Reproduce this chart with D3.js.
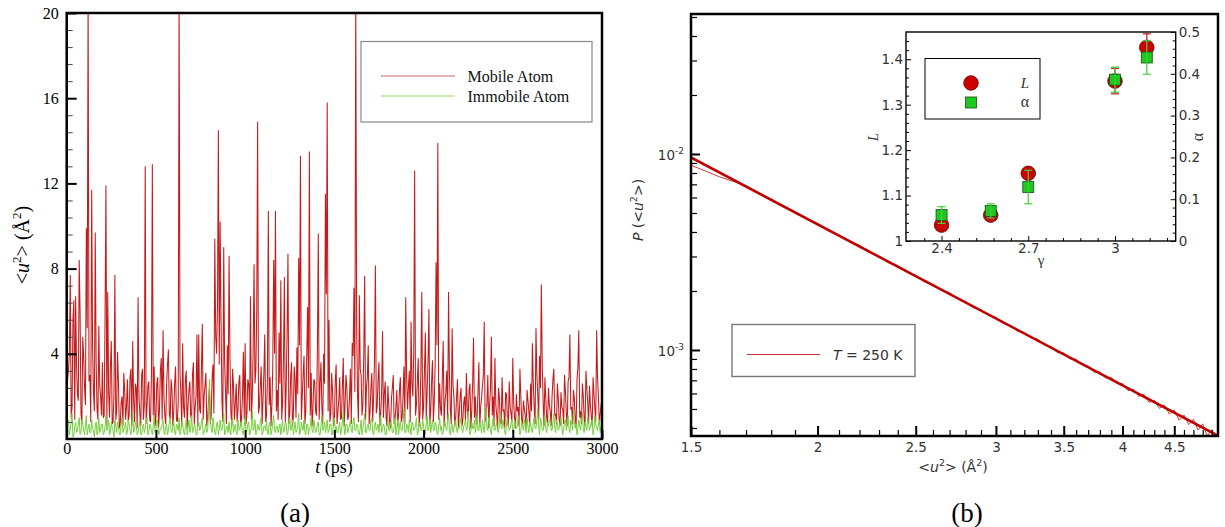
<!DOCTYPE html>
<html>
<head>
<meta charset="utf-8">
<script src="https://cdn.jsdelivr.net/npm/d3@7"></script>
<style>
  body { margin: 0; background: #fff; }
  svg { display: block; }
</style>
</head>
<body>
<svg id="fig" width="1225" height="527"></svg>
<script>
// ---------- (a) mean-square displacement time series ----------
const timeStep = 10; // ps between samples on the main grid
// samples at t = 0, 10, 20, ... 3000 ps
const mobileAtom = [
  0.6,3.2,7.7,1.5,6.5,6.7,2.1,8.4,1.2,4.8,2.4,9.9,21,3.0,11.7,2.2,9.7,1.4,5.3,2.0,
  3.6,1.1,11.9,6.9,1.0,4.6,0.8,7.7,1.3,2.6,0.7,2.0,3.1,0.9,2.8,1.1,3.3,4.6,0.8,2.4,
  6.65,1.2,3.0,0.9,12.8,1.5,2.7,0.8,12.9,3.4,1.0,2.9,1.4,3.8,5.1,1.1,2.6,4.2,0.9,2.3,
  1.3,3.4,0.8,21,2.1,4.5,1.0,3.2,1.6,2.7,0.9,3.6,1.5,4.9,4.9,1.2,5.4,2.0,3.1,1.0,
  2.4,1.1,3.5,9.4,4.0,14.5,10.2,1.8,9.0,2.2,4.4,8.6,1.3,3.3,0.9,2.6,1.4,3.0,1.0,4.1,
  4.5,1.2,2.6,6.7,2.0,8.2,3.2,14.9,1.5,3.4,1.8,4.9,1.1,10.7,2.9,1.6,8.4,10.7,2.3,5.0,
  7.45,1.7,7.6,2.4,8.7,1.2,3.6,1.0,2.8,4.3,8.5,13.3,2.0,3.9,1.3,6.2,13.5,3.1,1.4,2.7,
  1.1,9.65,2.6,1.5,4.0,11.5,15.8,5.6,1.2,2.2,0.8,3.5,1.3,2.9,1.0,3.8,1.6,2.4,1.1,3.3,
  4.5,7.1,21,2.0,6.75,3.0,1.6,7.65,2.4,4.4,1.3,3.1,2.0,8.15,1.5,3.6,1.2,5.06,2.1,1.0,
  2.5,0.8,1.9,3.0,0.9,2.3,1.2,2.9,1.0,3.4,6.65,1.4,3.2,5.5,2.0,12.6,1.6,3.8,1.2,6.9,
  1.5,5.0,2.2,6.1,1.3,3.7,1.8,8.3,13.9,2.6,1.1,4.6,1.7,3.2,6.9,1.4,5.2,2.0,1.0,2.8,
  1.2,2.4,0.9,2.0,3.1,1.0,2.6,1.3,4.75,2.0,1.1,3.6,1.5,2.5,5.5,1.2,3.0,1.6,4.8,2.0,
  3.8,1.1,2.4,0.8,2.9,1.4,2.2,0.9,2.7,1.2,3.8,1.0,2.1,1.5,3.3,0.9,1.8,1.1,2.3,1.3,
  2.6,4.5,1.5,5.2,2.1,3.9,7.25,1.8,2.9,1.0,2.4,1.3,2.0,3.3,1.2,2.6,0.9,2.2,1.4,3.0,
  1.2,2.7,4.9,1.5,2.3,1.0,2.8,5.1,1.3,2.6,1.0,3.2,1.7,2.5,1.1,2.9,1.4,5.1,2.0,1.2,
  1.8
];
// samples at t = 5, 15, 25, ... 2995 ps
const mobileAtomMid = [
  2.8,4.1,1.0,5.6,0.9,3.5,1.8,6.0,0.7,3.9,1.6,5.2,2.7,0.8,4.4,1.3,3.6,0.9,2.5,1.1,
  1.0,5.8,0.6,2.2,3.4,0.7,2.1,0.9,4.1,0.5,1.7,0.6,2.3,1.5,0.8,2.9,0.6,1.9,2.6,0.5,
  2.0,0.6,3.3,1.6,0.7,2.5,0.9,3.0,1.1,0.6,2.6,0.5,3.2,0.9,2.0,0.7,3.5,1.2,2.8,0.6,
  2.6,0.9,1.7,3.1,0.6,1.5,2.8,0.5,2.3,1.1,3.0,0.7,2.0,0.6,1.4,3.3,0.9,2.5,0.6,1.8,
  0.7,2.9,1.2,4.8,6.2,3.5,5.5,0.8,3.6,0.7,2.1,3.8,0.6,2.4,1.7,0.8,2.7,0.6,2.0,0.9,
  0.7,2.8,1.3,0.9,4.2,2.6,6.0,1.2,2.5,0.7,3.1,0.8,2.9,1.6,0.6,3.5,4.0,1.3,0.9,2.6,
  0.9,3.8,0.8,4.9,0.7,2.9,0.6,3.4,1.0,2.1,4.4,0.9,3.0,0.7,3.8,2.4,1.1,0.6,2.8,1.3,
  4.2,0.9,3.6,0.7,2.6,6.8,1.3,0.8,3.1,0.6,2.7,0.7,1.8,0.9,2.5,0.6,3.0,0.9,2.0,0.7,
  3.9,2.2,5.4,0.8,3.3,1.1,4.1,0.9,2.9,0.7,2.4,0.8,3.7,1.2,2.8,0.6,2.2,1.0,2.7,0.6,
  1.6,0.5,2.4,0.7,1.5,0.6,2.3,0.8,2.0,0.7,3.0,2.4,0.8,2.6,4.1,1.1,2.7,0.6,3.2,0.9,
  3.2,0.9,3.6,0.7,2.7,0.8,3.5,4.4,0.9,1.4,2.9,0.6,2.2,0.9,3.1,0.7,2.5,0.6,2.0,0.5,
  2.0,0.6,1.7,0.8,1.4,2.3,0.5,2.6,1.0,0.7,2.2,0.6,1.9,3.0,0.8,1.6,0.5,2.4,1.1,0.6,
  1.6,0.5,1.9,0.7,1.3,0.5,2.1,0.6,1.5,0.8,1.7,0.5,1.3,0.6,2.0,0.7,1.4,0.5,1.8,0.6,
  1.3,2.6,0.7,3.0,0.9,2.4,3.5,0.6,1.9,0.7,1.6,0.6,2.8,1.1,0.7,1.9,0.6,1.5,0.7,2.2,
  0.6,2.9,1.4,0.7,1.9,0.6,3.4,1.0,0.7,2.0,0.6,2.4,0.7,1.6,0.6,2.1,0.8,2.9,0.7,1.6
];
const immobileAtom = [
  0.3,0.9,0.5,1.2,0.2,0.8,0.4,1.0,0.3,0.7,0.2,1.1,0.5,0.3,0.9,0.4,0.6,0.2,1.0,0.4,
  0.7,0.3,1.1,0.5,0.2,0.8,0.4,0.9,0.3,0.6,0.2,1.0,0.5,0.8,0.3,0.7,0.2,1.2,0.4,0.6,
  0.3,0.9,0.2,0.7,0.5,1.0,0.3,0.6,0.2,1.1,0.4,0.8,0.3,0.5,0.9,0.2,0.7,0.4,1.0,0.3,
  0.8,0.2,0.6,1.0,0.4,0.7,0.2,0.9,0.5,0.3,1.1,0.4,0.6,0.2,0.8,0.5,1.0,0.3,0.7,0.4,
  2.8,0.5,1.0,0.3,0.7,0.2,0.9,0.4,1.2,0.3,0.6,0.8,0.2,1.0,0.5,0.3,0.9,0.4,0.7,0.2,
  1.0,0.4,0.8,0.3,1.3,0.5,0.2,0.7,0.4,1.0,0.3,0.6,0.9,0.2,0.8,0.4,1.1,0.3,0.6,0.5,
  0.2,0.9,0.4,0.7,0.3,1.0,0.5,0.2,0.8,0.4,1.2,0.3,0.6,0.9,0.2,0.7,0.5,1.0,0.3,0.6,
  0.4,0.8,0.2,1.1,0.5,0.3,0.9,0.4,0.7,0.2,1.0,0.6,0.3,0.8,0.4,1.3,0.2,0.7,0.5,0.9,
  0.3,1.0,0.4,0.6,0.2,0.9,0.5,1.2,0.3,0.7,0.4,1.0,0.2,0.8,0.5,0.3,1.1,0.4,0.6,0.2,
  0.9,0.4,0.7,0.3,1.0,0.5,0.2,0.8,0.4,1.4,0.3,0.6,0.9,0.2,0.7,0.5,1.0,0.3,0.8,0.4,
  0.6,0.2,1.1,0.5,0.3,0.9,0.4,0.7,0.2,1.0,0.6,0.3,0.8,0.4,1.2,0.2,0.7,0.5,0.9,0.3,
  0.5,1.0,0.3,0.7,0.4,1.3,0.2,0.8,0.5,0.3,1.1,0.4,0.6,0.9,0.3,1.5,0.4,0.7,0.2,1.0,
  0.4,0.8,0.3,1.2,0.5,0.6,0.2,1.0,0.4,0.7,0.3,0.9,0.5,1.1,0.2,0.8,0.4,0.6,1.0,0.3,
  0.7,0.3,1.0,0.5,1.4,0.2,0.8,0.4,1.1,0.3,0.6,0.9,0.4,1.2,0.3,0.7,0.5,1.0,0.2,0.8,
  0.4,1.1,0.3,0.7,1.3,0.5,0.2,0.9,0.4,1.2,0.3,0.6,1.0,0.4,0.8,0.2,1.1,0.5,0.7,0.3,
  0.6
];
const immobileAtomMid = [
  0.5,0.2,0.8,0.1,0.6,0.3,0.7,0.2,0.9,0.4,0.6,0.2,0.7,0.3,0.5,0.1,0.8,0.4,0.3,0.7,
  0.2,0.6,0.4,0.9,0.3,0.5,0.1,0.6,0.8,0.2,0.7,0.3,0.5,0.2,0.9,0.4,0.6,0.3,0.8,0.2,
  0.6,0.2,0.5,0.3,0.8,0.2,0.7,0.4,0.6,0.3,0.9,0.2,0.5,0.7,0.3,0.6,0.2,0.8,0.4,0.6,
  0.3,0.7,0.4,0.2,0.8,0.3,0.6,0.2,0.9,0.5,0.3,0.7,0.2,0.6,0.4,0.8,0.2,0.5,0.3,1.3,
  0.9,0.3,0.6,0.2,0.8,0.4,0.5,0.7,0.2,0.6,0.3,0.4,0.9,0.3,0.7,0.2,0.5,0.8,0.3,0.6,
  0.3,0.7,0.2,0.6,0.4,0.9,0.3,0.5,0.8,0.2,0.6,0.4,0.3,0.7,0.2,0.8,0.4,0.6,0.3,0.7,
  0.6,0.3,0.8,0.2,0.7,0.4,0.9,0.5,0.3,0.6,0.2,0.8,0.4,0.3,0.7,0.2,0.6,0.4,0.9,0.3,
  0.7,0.2,0.6,0.4,0.8,0.6,0.3,0.7,0.2,0.9,0.4,0.3,0.6,0.2,0.8,0.5,0.7,0.3,0.6,0.4,
  0.8,0.4,0.7,0.3,0.5,0.2,0.8,0.3,0.6,0.4,0.9,0.3,0.6,0.4,0.7,0.9,0.3,0.7,0.2,0.6,
  0.4,0.8,0.3,0.6,0.2,0.9,0.6,0.4,0.8,0.3,0.7,0.3,0.5,0.8,0.4,0.6,0.2,0.7,0.4,0.9,
  0.3,0.8,0.4,0.9,0.6,0.4,0.8,0.3,0.6,0.4,0.2,0.7,0.5,0.9,0.4,0.6,0.3,0.8,0.4,0.6,
  0.8,0.4,0.6,0.9,0.5,0.7,0.4,0.5,0.9,0.6,0.4,0.8,0.3,0.6,0.9,0.5,1.0,0.4,0.7,0.5,
  0.6,0.4,0.8,0.5,0.9,0.3,0.7,0.6,0.5,0.9,0.4,0.7,0.6,0.8,0.4,0.6,0.9,0.3,0.6,0.8,
  0.4,0.8,0.5,0.9,0.6,1.0,0.4,0.7,0.5,0.8,0.9,0.4,0.8,0.6,0.9,0.4,0.8,0.6,0.5,0.9,
  0.7,0.5,0.9,0.4,0.8,0.7,0.5,0.6,0.9,0.5,0.8,0.4,0.7,0.6,0.9,0.5,0.7,0.4,0.9,0.6
];
const timeTicks = [0, 500, 1000, 1500, 2000, 2500, 3000];
const msdTicks = [4, 8, 12, 16, 20];
const msdMinorTicks = [0.8,1.6,2.4,3.2,4.8,5.6,6.4,7.2,8.8,9.6,10.4,11.2,12.8,13.6,14.4,15.2,16.8,17.6,18.4,19.2];
const seriesNames = ["Mobile Atom", "Immobile Atom"];

// ---------- (b) distribution of <u^2> ----------
const distU = [1.50,1.55,1.60,1.65,1.70,1.75,1.80,1.85,1.90,1.95,2.00,2.05,2.10,2.15,2.20,2.25,2.30,2.35,2.40,2.45,
  2.50,2.55,2.60,2.65,2.70,2.75,2.80,2.85,2.90,2.95,3.00,3.05,3.10,3.15,3.20,3.25,3.30,3.35,3.40,3.45,
  3.50,3.55,3.60,3.65,3.70,3.75,3.80,3.85,3.90,3.95,4.00,4.05,4.10,4.15,4.20,4.25,4.30,4.35,4.40,4.45,
  4.50,4.55,4.60,4.65,4.70,4.75,4.80,4.85,4.90,4.95];
const distP = [8.76e-3,8.19e-3,7.65e-3,7.26e-3,6.88e-3,6.26e-3,5.90e-3,5.37e-3,5.07e-3,4.67e-3,
  4.42e-3,4.05e-3,3.85e-3,3.57e-3,3.42e-3,3.145e-3,3.01e-3,2.786e-3,2.692e-3,2.498e-3,
  2.402e-3,2.225e-3,2.154e-3,2.012e-3,1.961e-3,1.823e-3,1.764e-3,1.642e-3,1.606e-3,1.501e-3,
  1.467e-3,1.367e-3,1.335e-3,1.246e-3,1.230e-3,1.152e-3,1.136e-3,1.056e-3,1.040e-3,9.70e-4,
  9.65e-4,9.01e-4,8.98e-4,8.34e-4,8.28e-4,7.69e-4,7.73e-4,7.19e-4,7.23e-4,6.74e-4,
  6.74e-4,6.20e-4,6.31e-4,5.80e-4,5.94e-4,5.40e-4,5.54e-4,5.04e-4,5.23e-4,4.71e-4,
  4.94e-4,4.38e-4,4.66e-4,4.16e-4,4.43e-4,3.90e-4,4.20e-4,3.64e-4,3.92e-4,3.60e-4];
const fitU = [1.5, 4.97];
const fitP = [9.6e-3, 3.65e-4];
const uTicks = [1.5, 2, 2.5, 3, 3.5, 4, 4.5];
const uMinorTicks = [1.6,1.7,1.8,1.9,2.1,2.2,2.3,2.4,2.6,2.7,2.8,2.9,3.1,3.2,3.3,3.4,3.6,3.7,3.8,3.9,4.1,4.2,4.3,4.4,4.6,4.7,4.8,4.9];
const pTicks = [1e-3, 1e-2];
const pTickExp = ["-3", "-2"];
const pMinorTicks = [4e-4,5e-4,6e-4,7e-4,8e-4,9e-4,2e-3,3e-3,4e-3,5e-3,6e-3,7e-3,8e-3,9e-3,2e-2,3e-2,4e-2,5e-2];

// ---------- inset: L and alpha versus gamma ----------
const gammaVals = [2.40, 2.57, 2.70, 3.00, 3.11];
const lVals = [1.035, 1.057, 1.149, 1.352, 1.426];
const lErr = [0.005, 0.012, 0.010, 0.028, 0.030];
const alphaVals = [0.062, 0.072, 0.129, 0.386, 0.439];
const alphaErr = [0.020, 0.017, 0.040, 0.030, 0.040];
const gammaTicks = [2.4, 2.7, 3];
const gammaMinorTicks = [2.34, 2.46, 2.52, 2.58, 2.64, 2.76, 2.82, 2.88, 2.94, 3.06, 3.12, 3.18];
const lTicks = [1, 1.1, 1.2, 1.3, 1.4];
const lMinorTicks = [1.02,1.04,1.06,1.08,1.12,1.14,1.16,1.18,1.22,1.24,1.26,1.28,1.32,1.34,1.36,1.38,1.42,1.44];
const alphaTicks = [0, 0.1, 0.2, 0.3, 0.4, 0.5];
const alphaMinorTicks = [0.02,0.04,0.06,0.08,0.12,0.14,0.16,0.18,0.22,0.24,0.26,0.28,0.32,0.34,0.36,0.38,0.42,0.44,0.46,0.48];

const svg = d3.select("#fig");
const SERIF = "'Liberation Serif', 'Times New Roman', serif";
const SANS = "'DejaVu Sans', 'Noto Sans', sans-serif";

function styleAxis(g, font, size, color) {
  g.select(".domain").remove();
  g.attr("font-family", font).attr("font-size", size);
  g.selectAll(".tick text").attr("fill", color);
  g.selectAll(".tick line").attr("stroke", "#000");
}

// Adds text made of runs; runs may be italic or superscript.
function richText(sel, runs, supSize, supShift) {
  runs.forEach(r => {
    const ts = sel.append("tspan").text(r.t);
    if (r.i) ts.attr("font-style", "italic");
    if (r.sup) ts.attr("font-size", supSize).attr("dy", -supShift);
    if (r.back) ts.attr("dy", supShift);
  });
  return sel;
}

// Interleave the main grid and the half-step samples into one time series.
function interleave(main, mid) {
  const out = [];
  main.forEach((v, i) => {
    out.push([i * timeStep, v]);
    if (i < mid.length) out.push([i * timeStep + timeStep / 2, mid[i]]);
  });
  return out;
}

// ================= panel (a) =================
const xA = d3.scaleLinear().domain([0, 3000]).range([66.7, 602]);
const yA = d3.scaleLinear().domain([0, 20]).range([439, 13]);

svg.append("defs").append("clipPath").attr("id", "clipA")
  .append("rect").attr("x", xA(0)).attr("y", yA(20))
  .attr("width", xA(3000) - xA(0)).attr("height", yA(0) - yA(20));

const lineA = d3.line().x(d => xA(d[0])).y(d => yA(d[1]));
const gA = svg.append("g").attr("clip-path", "url(#clipA)");
gA.append("path").datum(interleave(mobileAtom, mobileAtomMid)).attr("d", lineA)
  .attr("fill", "none").attr("stroke", "#c00000").attr("stroke-width", 1.05)
  .attr("stroke-opacity", 0.9);
gA.append("path").datum(interleave(immobileAtom, immobileAtomMid)).attr("d", lineA)
  .attr("fill", "none").attr("stroke", "#74cf38").attr("stroke-width", 1);

// axes (ticks pointing inward)
svg.append("g").attr("transform", `translate(0,${yA(0)})`)
  .call(d3.axisBottom(xA).tickValues(timeTicks).tickFormat(d3.format("d")).tickSizeInner(-9).tickSizeOuter(0).tickPadding(4))
  .call(g => styleAxis(g, SERIF, 16, "#000"))
  .call(g => g.selectAll(".tick line").attr("stroke-width", 2));
svg.append("g").attr("transform", `translate(${xA(0)},0)`)
  .call(d3.axisLeft(yA).tickValues(msdTicks).tickSizeInner(-10).tickSizeOuter(0).tickPadding(8))
  .call(g => styleAxis(g, SERIF, 16, "#000"))
  .call(g => g.selectAll(".tick line").attr("stroke-width", 2));
svg.append("g").attr("transform", `translate(${xA(0)},0)`)
  .call(d3.axisLeft(yA).tickValues(msdMinorTicks).tickSizeInner(-6).tickSizeOuter(0).tickFormat(""))
  .call(g => styleAxis(g, SERIF, 16, "#000"))
  .call(g => g.selectAll(".tick line").attr("stroke", "#444").attr("stroke-width", 1));

svg.append("rect").attr("x", xA(0)).attr("y", yA(20))
  .attr("width", xA(3000) - xA(0)).attr("height", yA(0) - yA(20))
  .attr("fill", "none").attr("stroke", "#000").attr("stroke-width", 2.5);

// axis titles
richText(svg.append("text").attr("x", 334).attr("y", 473).attr("text-anchor", "middle")
  .attr("font-family", SERIF).attr("font-size", 18),
  [{t: "t", i: true}, {t: " (ps)"}], 12, 7);
richText(svg.append("text").attr("transform", "translate(29,245) rotate(-90)").attr("text-anchor", "middle")
  .attr("font-family", SERIF).attr("font-size", 20),
  [{t: "<"}, {t: "u", i: true}, {t: "2", sup: true}, {t: ">", back: true}, {t: " (Å"}, {t: "2", sup: true}, {t: ")", back: true}], 13, 8);
svg.append("text").attr("x", 295).attr("y", 522).attr("text-anchor", "middle")
  .attr("font-family", SERIF).attr("font-size", 27).text("(a)");

// legend
const legA = svg.append("g");
legA.append("rect").attr("x", 361).attr("y", 41.5).attr("width", 231).attr("height", 80.5)
  .attr("fill", "#fff").attr("stroke", "#888").attr("stroke-width", 1.2);
const legColors = ["#d89a9a", "#b9e0a0"];
seriesNames.forEach((name, i) => {
  const y = 76 + i * 20;
  legA.append("line").attr("x1", 381).attr("x2", 455).attr("y1", y).attr("y2", y)
    .attr("stroke", legColors[i]).attr("stroke-width", 1.4);
  legA.append("text").attr("x", 467.5).attr("y", y + 5.5).attr("font-family", SERIF)
    .attr("font-size", 16).attr("fill", "#111").text(name);
});

// ================= panel (b) =================
const xB = d3.scaleLog().domain([1.5, 4.97]).range([691, 1218]);
const yB = d3.scaleLog().domain([3.64e-4, 0.0518]).range([436, 14]);

svg.select("defs").append("clipPath").attr("id", "clipB")
  .append("rect").attr("x", 691).attr("y", 14).attr("width", 527).attr("height", 422);

const lineB = d3.line().x(d => xB(d[0])).y(d => yB(d[1]));
const gB = svg.append("g").attr("clip-path", "url(#clipB)");
gB.append("path").datum(distU.map((u, i) => [u, distP[i]])).attr("d", lineB)
  .attr("fill", "none").attr("stroke", "#d23a3a").attr("stroke-width", 1);
gB.append("path").datum(fitU.map((u, i) => [u, fitP[i]])).attr("d", lineB)
  .attr("fill", "none").attr("stroke", "#c00000").attr("stroke-width", 2.6);

// x axis (log)
svg.append("g").attr("transform", `translate(0,436)`)
  .call(d3.axisBottom(xB).tickValues(uTicks).tickFormat(d3.format("")).tickSizeInner(-10).tickSizeOuter(0).tickPadding(6))
  .call(g => styleAxis(g, SANS, 13.5, "#333"))
  .call(g => g.selectAll(".tick line").attr("stroke-width", 2));
svg.append("g").attr("transform", `translate(0,436)`)
  .call(d3.axisBottom(xB).tickValues(uMinorTicks).tickFormat("").tickSizeInner(-6).tickSizeOuter(0))
  .call(g => styleAxis(g, SANS, 13.5, "#333"))
  .call(g => g.selectAll(".tick line").attr("stroke-width", 1.2));
// y axis (log)
svg.append("g").attr("transform", `translate(691,0)`)
  .call(d3.axisLeft(yB).tickValues(pTicks).tickFormat("").tickSizeInner(-9).tickSizeOuter(0))
  .call(g => styleAxis(g, SANS, 13.5, "#333"))
  .call(g => g.selectAll(".tick line").attr("stroke-width", 2));
svg.append("g").attr("transform", `translate(691,0)`)
  .call(d3.axisLeft(yB).tickValues(pMinorTicks).tickFormat("").tickSizeInner(-6).tickSizeOuter(0))
  .call(g => styleAxis(g, SANS, 13.5, "#333"))
  .call(g => g.selectAll(".tick line").attr("stroke-width", 1.2));
pTicks.forEach((p, i) => {
  const t = svg.append("text").attr("x", 684).attr("y", yB(p) + 6).attr("text-anchor", "end")
    .attr("font-family", SANS).attr("font-size", 13.5).attr("fill", "#333");
  richText(t, [{t: "10"}, {t: pTickExp[i], sup: true}], 9, 6);
});

svg.append("rect").attr("x", 691).attr("y", 14).attr("width", 527).attr("height", 422)
  .attr("fill", "none").attr("stroke", "#000").attr("stroke-width", 2.5);

// titles
richText(svg.append("text").attr("x", 953).attr("y", 472).attr("text-anchor", "middle")
  .attr("font-family", SANS).attr("font-size", 14).attr("fill", "#333"),
  [{t: "<"}, {t: "u", i: true}, {t: "2", sup: true}, {t: "> (Å", back: true}, {t: "2", sup: true}, {t: ")", back: true}], 9.5, 6);
richText(svg.append("text").attr("transform", "translate(643,210) rotate(-90)").attr("text-anchor", "middle")
  .attr("font-family", SANS).attr("font-size", 14).attr("fill", "#333"),
  [{t: "P", i: true}, {t: " (<"}, {t: "u", i: true}, {t: "2", sup: true}, {t: ">)", back: true}], 9.5, 6);
svg.append("text").attr("x", 967).attr("y", 522).attr("text-anchor", "middle")
  .attr("font-family", SERIF).attr("font-size", 27).text("(b)");

// legend
const legB = svg.append("g");
legB.append("rect").attr("x", 732).attr("y", 324.5).attr("width", 183).attr("height", 52)
  .attr("fill", "#fff").attr("stroke", "#777").attr("stroke-width", 1.4);
legB.append("line").attr("x1", 747).attr("x2", 820).attr("y1", 354.5).attr("y2", 354.5)
  .attr("stroke", "#d23a3a").attr("stroke-width", 1.2);
richText(legB.append("text").attr("x", 833).attr("y", 360).attr("font-family", SANS)
  .attr("font-size", 14).attr("fill", "#333"),
  [{t: "T", i: true}, {t: " = 250 K"}], 9, 6);

// ================= inset =================
const xC = d3.scaleLinear().domain([2.277, 3.21]).range([906, 1175.7]);
const yL = d3.scaleLinear().domain([1, 1.46]).range([241, 32]);
const yAl = d3.scaleLinear().domain([0, 0.5]).range([241, 32]);

svg.append("rect").attr("x", 906).attr("y", 32).attr("width", 269.7).attr("height", 209)
  .attr("fill", "#fff");

const insetFont = 13.5;
svg.append("g").attr("transform", "translate(0,241)")
  .call(d3.axisBottom(xC).tickValues(gammaTicks).tickFormat(d3.format("")).tickSizeInner(-5).tickSizeOuter(0).tickPadding(2))
  .call(g => styleAxis(g, SANS, insetFont, "#333"));
svg.append("g").attr("transform", "translate(0,241)")
  .call(d3.axisBottom(xC).tickValues(gammaMinorTicks).tickFormat("").tickSizeInner(-3).tickSizeOuter(0))
  .call(g => styleAxis(g, SANS, insetFont, "#333"));
svg.append("g").attr("transform", "translate(906,0)")
  .call(d3.axisLeft(yL).tickValues(lTicks).tickFormat(d3.format("")).tickSizeInner(-5).tickSizeOuter(0).tickPadding(3))
  .call(g => styleAxis(g, SANS, insetFont, "#333"));
svg.append("g").attr("transform", "translate(906,0)")
  .call(d3.axisLeft(yL).tickValues(lMinorTicks).tickFormat("").tickSizeInner(-3).tickSizeOuter(0))
  .call(g => styleAxis(g, SANS, insetFont, "#333"));
svg.append("g").attr("transform", "translate(1175.7,0)")
  .call(d3.axisRight(yAl).tickValues(alphaTicks).tickFormat(d3.format("")).tickSizeInner(-5).tickSizeOuter(0).tickPadding(3))
  .call(g => styleAxis(g, SANS, insetFont, "#333"));
svg.append("g").attr("transform", "translate(1175.7,0)")
  .call(d3.axisRight(yAl).tickValues(alphaMinorTicks).tickFormat("").tickSizeInner(-3).tickSizeOuter(0))
  .call(g => styleAxis(g, SANS, insetFont, "#333"));

svg.append("rect").attr("x", 906).attr("y", 32).attr("width", 269.7).attr("height", 209)
  .attr("fill", "none").attr("stroke", "#000").attr("stroke-width", 1.4);

// markers and error bars
const gC = svg.append("g");
function errBars(vals, errs, scale, color) {
  vals.forEach((v, i) => {
    const x = xC(gammaVals[i]);
    const y1 = scale(v - errs[i]), y2 = scale(v + errs[i]);
    gC.append("line").attr("x1", x).attr("x2", x).attr("y1", y1).attr("y2", y2)
      .attr("stroke", color).attr("stroke-width", 1.2);
    [y1, y2].forEach(y => gC.append("line").attr("x1", x - 4).attr("x2", x + 4).attr("y1", y).attr("y2", y)
      .attr("stroke", color).attr("stroke-width", 1.2));
  });
}
gC.selectAll("circle.L").data(lVals).join("circle").attr("class", "L")
  .attr("cx", (d, i) => xC(gammaVals[i])).attr("cy", d => yL(d)).attr("r", 7.3)
  .attr("fill", "#cc0000").attr("stroke", "#5a0a0a").attr("stroke-width", 0.8);
errBars(lVals, lErr, yL, "#c01818");
gC.selectAll("rect.A").data(alphaVals).join("rect").attr("class", "A")
  .attr("x", (d, i) => xC(gammaVals[i]) - 5.5).attr("y", d => yAl(d) - 5.5)
  .attr("width", 11).attr("height", 11)
  .attr("fill", "#1fc81f").attr("stroke", "#1a4a1a").attr("stroke-width", 0.8);
errBars(alphaVals, alphaErr, yAl, "#3fcf3f");

// inset titles
svg.append("text").attr("transform", "translate(878,137) rotate(-90)").attr("text-anchor", "middle")
  .attr("font-family", SERIF).attr("font-style", "italic").attr("font-size", 15).attr("fill", "#333").text("L");
svg.append("text").attr("transform", "translate(1203,137) rotate(-90)").attr("text-anchor", "middle")
  .attr("font-family", SERIF).attr("font-size", 16).attr("fill", "#333").text("α");
svg.append("text").attr("x", 1041).attr("y", 265).attr("text-anchor", "middle")
  .attr("font-family", SERIF).attr("font-size", 15).attr("fill", "#333").text("γ");

// inset legend
const legC = svg.append("g");
legC.append("rect").attr("x", 925).attr("y", 58.5).attr("width", 115).attr("height", 60.5)
  .attr("fill", "#fff").attr("stroke", "#000").attr("stroke-width", 1);
legC.append("circle").attr("cx", 971).attr("cy", 83).attr("r", 7.3)
  .attr("fill", "#cc0000").attr("stroke", "#5a0a0a").attr("stroke-width", 0.8);
legC.append("rect").attr("x", 965.5).attr("y", 97).attr("width", 11).attr("height", 11)
  .attr("fill", "#1fc81f").attr("stroke", "#1a4a1a").attr("stroke-width", 0.8);
legC.append("text").attr("x", 1025).attr("y", 88).attr("text-anchor", "middle")
  .attr("font-family", SERIF).attr("font-style", "italic").attr("font-size", 15).attr("fill", "#333").text("L");
legC.append("text").attr("x", 1025).attr("y", 107).attr("text-anchor", "middle")
  .attr("font-family", SERIF).attr("font-size", 16).attr("fill", "#333").text("α");
</script>
</body>
</html>
